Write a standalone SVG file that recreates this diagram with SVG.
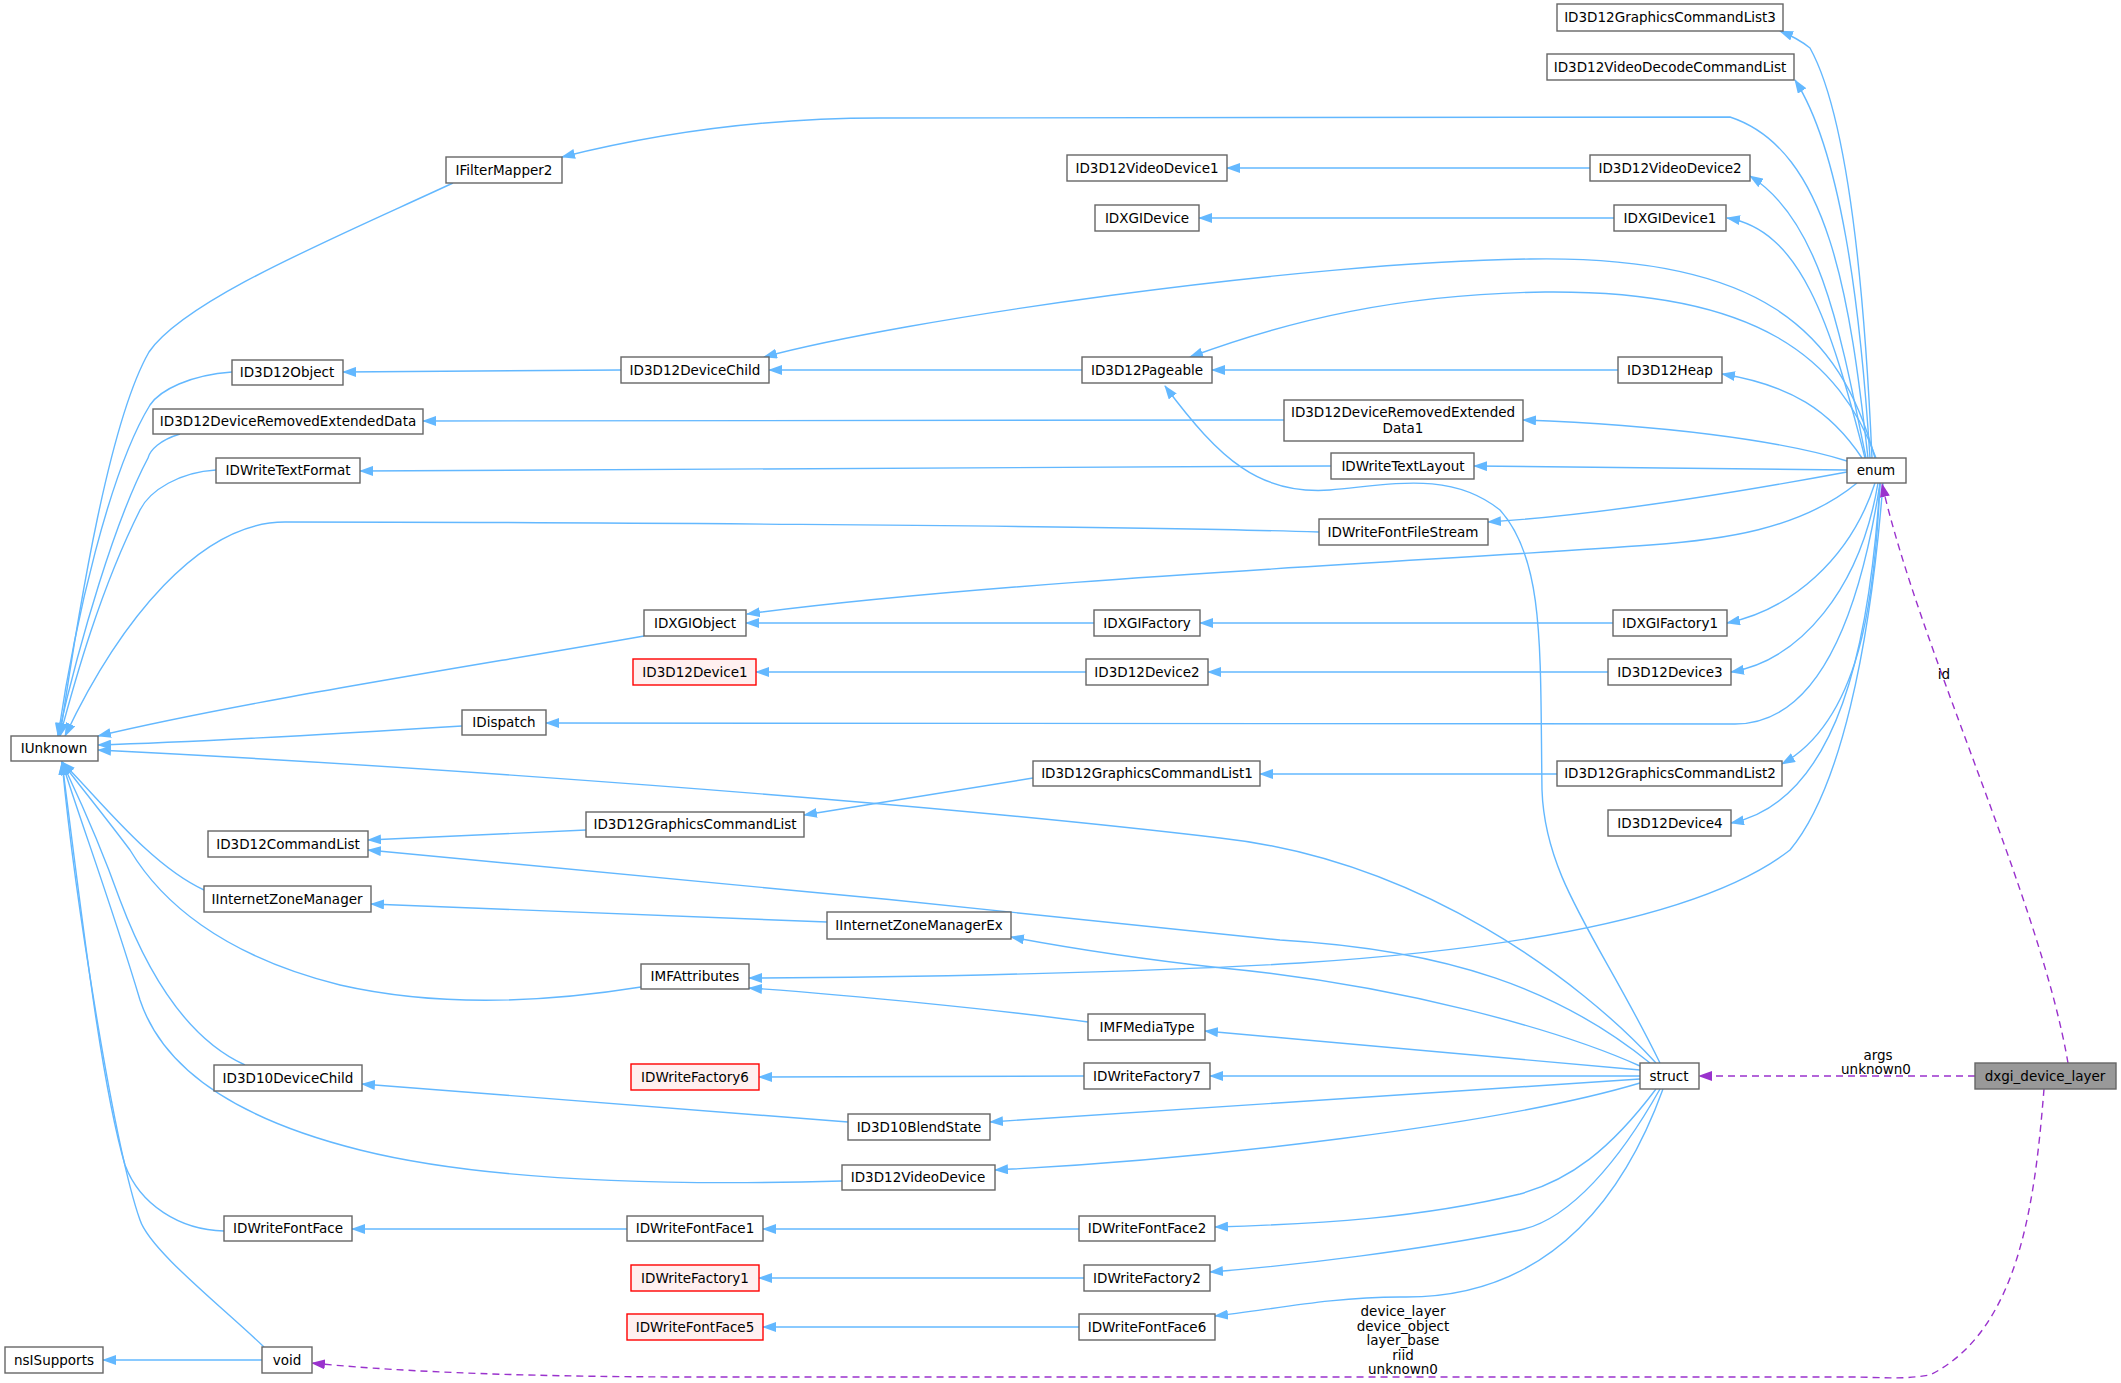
<svg xmlns="http://www.w3.org/2000/svg" width="2121" height="1383" viewBox="0 0 2121 1383">
<style>
.n rect{fill:#fff;stroke:#666;stroke-width:1.4}
.r rect{fill:#fff0f0;stroke:#ff0000;stroke-width:1.4}
.g rect{fill:#999;stroke:#666;stroke-width:1.4}
text{font-family:"DejaVu Sans","Noto Sans",sans-serif;font-size:13.5px;text-anchor:middle;fill:#000}
.e path{fill:none;stroke:#63b8ff;stroke-width:1.4}
.p path{fill:none;stroke:#9a32cd;stroke-width:1.4;stroke-dasharray:7,5}
</style>
<defs>
<marker id="ab" markerUnits="userSpaceOnUse" markerWidth="14" markerHeight="10" refX="13" refY="5" orient="auto"><path d="M0,0 L14,5 L0,10 z" fill="#63b8ff"/></marker>
<marker id="ap" markerUnits="userSpaceOnUse" markerWidth="14" markerHeight="10" refX="13" refY="5" orient="auto"><path d="M0,0 L14,5 L0,10 z" fill="#9a32cd"/></marker>
</defs>
<rect width="2121" height="1383" fill="#fff"/>
<g id="connectors">
<g class="e" marker-end="url(#ab)">
<path d="M453,183 C330,240 185,300 149,352 C110,420 80,600 60,736"/>
<path d="M232,372 C190,375 160,390 150,405 C110,470 75,620 58,736"/>
<path d="M180,434 C160,440 150,450 148,458 C115,520 80,640 58,736"/>
<path d="M216,470 C180,472 150,490 140,510 C100,590 75,680 60,736"/>
<path d="M1319,532 C1100,525 500,522 285,522 C200,522 120,620 65,736"/>
<path d="M644,636 C480,665 250,700 98,736"/>
<path d="M462,726 C350,733 200,742 98,745"/>
<path d="M1656,1063 C1580,980 1420,860 1220,838 C900,800 400,765 98,750"/>
<path d="M204,890 C150,865 100,800 62,762"/>
<path d="M641,987 C560,1000 450,1010 340,985 C220,955 160,900 130,850 C100,810 75,780 62,762"/>
<path d="M245,1065 C190,1040 150,980 120,900 C95,830 75,790 62,762"/>
<path d="M842,1181 C700,1185 500,1185 360,1150 C220,1115 160,1060 140,1000 C110,900 80,820 62,762"/>
<path d="M224,1231 C180,1230 140,1205 125,1165 C100,1080 80,900 62,762"/>
<path d="M264,1347 C220,1305 150,1250 140,1220 C115,1150 75,900 62,762"/>
<path d="M621,370 L343,372"/>
<path d="M1082,370 L769,370"/>
<path d="M1875,458 C1840,330 1760,255 1530,259 C1300,262 900,320 764,357"/>
<path d="M1876,458 C1840,360 1760,290 1545,292 C1400,294 1290,320 1190,357"/>
<path d="M1618,370 L1212,370"/>
<path d="M1660,1063 C1600,940 1545,880 1542,790 C1540,650 1545,560 1500,510 C1450,470 1390,485 1330,490 C1260,495 1220,460 1165,386"/>
<path d="M1284,420 L423,421"/>
<path d="M1847,461 C1780,440 1660,425 1523,420"/>
<path d="M1331,466 L360,471"/>
<path d="M1847,470 L1474,466"/>
<path d="M1847,472 C1750,490 1600,515 1488,522"/>
<path d="M1857,483 C1800,530 1720,540 1650,545 C1450,560 1000,580 747,614"/>
<path d="M1094,623 L746,623"/>
<path d="M1613,623 L1200,623"/>
<path d="M1875,483 C1850,560 1790,610 1727,623"/>
<path d="M1086,672 L756,672"/>
<path d="M1608,672 L1208,672"/>
<path d="M1878,483 C1860,590 1800,660 1731,672"/>
<path d="M1880,483 C1865,580 1830,724 1735,724 L546,723"/>
<path d="M1033,778 L804,815"/>
<path d="M1557,774 L1260,774"/>
<path d="M1880,483 C1875,600 1860,720 1782,764"/>
<path d="M586,830 L368,840"/>
<path d="M1650,1063 C1560,990 1450,950 1280,940 C1000,910 600,870 368,850"/>
<path d="M1880,483 C1870,640 1840,800 1731,823"/>
<path d="M827,922 L371,904"/>
<path d="M1640,1066 C1560,1030 1400,985 1222,968 C1150,960 1080,950 1011,937"/>
<path d="M1883,483 C1870,650 1840,790 1790,850 C1700,920 1500,950 1300,963 C1150,972 900,978 749,978"/>
<path d="M1088,1022 C1000,1010 850,995 749,988"/>
<path d="M1640,1070 L1205,1031"/>
<path d="M1084,1076 L759,1077"/>
<path d="M1640,1076 L1210,1076"/>
<path d="M848,1122 L362,1084"/>
<path d="M1640,1079 L990,1122"/>
<path d="M1640,1083 C1500,1125 1200,1160 995,1170"/>
<path d="M627,1229 L352,1229"/>
<path d="M1079,1229 L763,1229"/>
<path d="M1656,1089 C1610,1150 1570,1180 1520,1194 C1420,1218 1320,1224 1215,1227"/>
<path d="M1084,1278 L759,1278"/>
<path d="M1660,1089 C1620,1160 1570,1220 1520,1230 C1420,1250 1300,1265 1210,1272"/>
<path d="M1079,1327 L763,1327"/>
<path d="M1663,1089 C1630,1180 1560,1300 1400,1297 C1330,1297 1270,1310 1215,1316"/>
<path d="M262,1360 L103,1360"/>
<path d="M1872,458 C1865,300 1850,120 1810,48 C1800,40 1790,35 1780,31"/>
<path d="M1870,458 C1860,300 1840,150 1795,80"/>
<path d="M1868,458 C1850,300 1830,150 1730,117 L880,118 C760,118 650,135 562,157"/>
<path d="M1866,458 C1840,330 1820,220 1750,176"/>
<path d="M1865,458 C1830,320 1800,230 1727,218"/>
<path d="M1590,168 L1227,168"/>
<path d="M1614,218 L1199,218"/>
<path d="M1862,458 C1830,410 1790,385 1722,374"/>
</g>
<g class="p" marker-end="url(#ap)">
<path d="M2068,1063 C2040,900 1920,650 1882,484"/>
<path d="M1975,1076 L1699,1076"/>
<path d="M2044,1089 C2035,1200 2020,1330 1930,1375 C1900,1380 1880,1377 1850,1377 L700,1377 C500,1377 380,1370 312,1363"/>
</g>
<text x="1944" y="679">id</text>
<text x="1878" y="1060">args</text>
<text x="1876" y="1074">unknown0</text>
<text x="1403" y="1316">device_layer</text>
<text x="1403" y="1331">device_object</text>
<text x="1403" y="1345">layer_base</text>
<text x="1403" y="1360">riid</text>
<text x="1403" y="1374">unknown0</text>
</g>
<g id="GCL3" class="n"><rect x="1557" y="4" width="226" height="27"/><text x="1670" y="22">ID3D12GraphicsCommandList3</text></g>
<g id="VDCL" class="n"><rect x="1547" y="54" width="247" height="26"/><text x="1670" y="72">ID3D12VideoDecodeCommandList</text></g>
<g id="IFilterMapper2" class="n"><rect x="446" y="157" width="116" height="26"/><text x="504" y="175">IFilterMapper2</text></g>
<g id="VD1" class="n"><rect x="1067" y="155" width="160" height="26"/><text x="1147" y="173">ID3D12VideoDevice1</text></g>
<g id="VD2" class="n"><rect x="1590" y="155" width="160" height="26"/><text x="1670" y="173">ID3D12VideoDevice2</text></g>
<g id="IDXGIDevice" class="n"><rect x="1095" y="205" width="104" height="26"/><text x="1147" y="223">IDXGIDevice</text></g>
<g id="IDXGIDevice1" class="n"><rect x="1614" y="205" width="112" height="26"/><text x="1670" y="223">IDXGIDevice1</text></g>
<g id="ID3D12Object" class="n"><rect x="232" y="360" width="111" height="25"/><text x="287" y="377">ID3D12Object</text></g>
<g id="DeviceChild" class="n"><rect x="621" y="357" width="148" height="26"/><text x="695" y="375">ID3D12DeviceChild</text></g>
<g id="Pageable" class="n"><rect x="1082" y="357" width="130" height="26"/><text x="1147" y="375">ID3D12Pageable</text></g>
<g id="Heap" class="n"><rect x="1618" y="357" width="104" height="26"/><text x="1670" y="375">ID3D12Heap</text></g>
<g id="DRED" class="n"><rect x="153" y="409" width="270" height="25"/><text x="288" y="426">ID3D12DeviceRemovedExtendedData</text></g>
<g id="DRED1" class="n"><rect x="1284" y="400" width="239" height="41"/><text x="1403" y="417">ID3D12DeviceRemovedExtended</text><text x="1403" y="433">Data1</text></g>
<g id="TextFormat" class="n"><rect x="216" y="458" width="144" height="25"/><text x="288" y="475">IDWriteTextFormat</text></g>
<g id="TextLayout" class="n"><rect x="1331" y="453" width="143" height="26"/><text x="1403" y="471">IDWriteTextLayout</text></g>
<g id="enum" class="n"><rect x="1847" y="458" width="59" height="25"/><text x="1876" y="475">enum</text></g>
<g id="FontFileStream" class="n"><rect x="1319" y="519" width="169" height="26"/><text x="1403" y="537">IDWriteFontFileStream</text></g>
<g id="IDXGIObject" class="n"><rect x="644" y="610" width="102" height="26"/><text x="695" y="628">IDXGIObject</text></g>
<g id="IDXGIFactory" class="n"><rect x="1094" y="610" width="106" height="26"/><text x="1147" y="628">IDXGIFactory</text></g>
<g id="IDXGIFactory1" class="n"><rect x="1613" y="610" width="114" height="26"/><text x="1670" y="628">IDXGIFactory1</text></g>
<g id="Device1" class="r"><rect x="633" y="659" width="123" height="26"/><text x="695" y="677">ID3D12Device1</text></g>
<g id="Device2" class="n"><rect x="1086" y="659" width="122" height="26"/><text x="1147" y="677">ID3D12Device2</text></g>
<g id="Device3" class="n"><rect x="1608" y="659" width="123" height="26"/><text x="1670" y="677">ID3D12Device3</text></g>
<g id="IDispatch" class="n"><rect x="462" y="710" width="84" height="25"/><text x="504" y="727">IDispatch</text></g>
<g id="IUnknown" class="n"><rect x="11" y="736" width="87" height="25"/><text x="54" y="753">IUnknown</text></g>
<g id="GCL1" class="n"><rect x="1033" y="761" width="227" height="25"/><text x="1147" y="778">ID3D12GraphicsCommandList1</text></g>
<g id="GCL2" class="n"><rect x="1557" y="761" width="225" height="25"/><text x="1670" y="778">ID3D12GraphicsCommandList2</text></g>
<g id="GCL" class="n"><rect x="586" y="812" width="218" height="25"/><text x="695" y="829">ID3D12GraphicsCommandList</text></g>
<g id="CommandList" class="n"><rect x="208" y="831" width="160" height="26"/><text x="288" y="849">ID3D12CommandList</text></g>
<g id="Device4" class="n"><rect x="1608" y="810" width="123" height="26"/><text x="1670" y="828">ID3D12Device4</text></g>
<g id="IZM" class="n"><rect x="204" y="886" width="167" height="26"/><text x="287" y="904">IInternetZoneManager</text></g>
<g id="IZMEx" class="n"><rect x="827" y="912" width="184" height="27"/><text x="919" y="930">IInternetZoneManagerEx</text></g>
<g id="IMFAttributes" class="n"><rect x="641" y="964" width="108" height="25"/><text x="695" y="981">IMFAttributes</text></g>
<g id="IMFMediaType" class="n"><rect x="1088" y="1014" width="117" height="26"/><text x="1147" y="1032">IMFMediaType</text></g>
<g id="D10DeviceChild" class="n"><rect x="214" y="1065" width="148" height="26"/><text x="288" y="1083">ID3D10DeviceChild</text></g>
<g id="Factory6" class="r"><rect x="631" y="1064" width="128" height="26"/><text x="695" y="1082">IDWriteFactory6</text></g>
<g id="Factory7" class="n"><rect x="1084" y="1063" width="126" height="26"/><text x="1147" y="1081">IDWriteFactory7</text></g>
<g id="struct" class="n"><rect x="1640" y="1063" width="59" height="26"/><text x="1669" y="1081">struct</text></g>
<g id="dxgi_device_layer" class="g"><rect x="1975" y="1063" width="141" height="26"/><text x="2045" y="1081">dxgi_device_layer</text></g>
<g id="BlendState" class="n"><rect x="848" y="1114" width="142" height="26"/><text x="919" y="1132">ID3D10BlendState</text></g>
<g id="VideoDevice" class="n"><rect x="842" y="1165" width="153" height="25"/><text x="918" y="1182">ID3D12VideoDevice</text></g>
<g id="FontFace" class="n"><rect x="224" y="1216" width="128" height="25"/><text x="288" y="1233">IDWriteFontFace</text></g>
<g id="FontFace1" class="n"><rect x="627" y="1216" width="136" height="25"/><text x="695" y="1233">IDWriteFontFace1</text></g>
<g id="FontFace2" class="n"><rect x="1079" y="1216" width="136" height="25"/><text x="1147" y="1233">IDWriteFontFace2</text></g>
<g id="Factory1" class="r"><rect x="631" y="1265" width="128" height="26"/><text x="695" y="1283">IDWriteFactory1</text></g>
<g id="Factory2" class="n"><rect x="1084" y="1265" width="126" height="26"/><text x="1147" y="1283">IDWriteFactory2</text></g>
<g id="FontFace5" class="r"><rect x="627" y="1314" width="136" height="26"/><text x="695" y="1332">IDWriteFontFace5</text></g>
<g id="FontFace6" class="n"><rect x="1079" y="1314" width="136" height="26"/><text x="1147" y="1332">IDWriteFontFace6</text></g>
<g id="nsISupports" class="n"><rect x="5" y="1347" width="98" height="26"/><text x="54" y="1365">nsISupports</text></g>
<g id="void" class="n"><rect x="262" y="1347" width="50" height="26"/><text x="287" y="1365">void</text></g>
</svg>
